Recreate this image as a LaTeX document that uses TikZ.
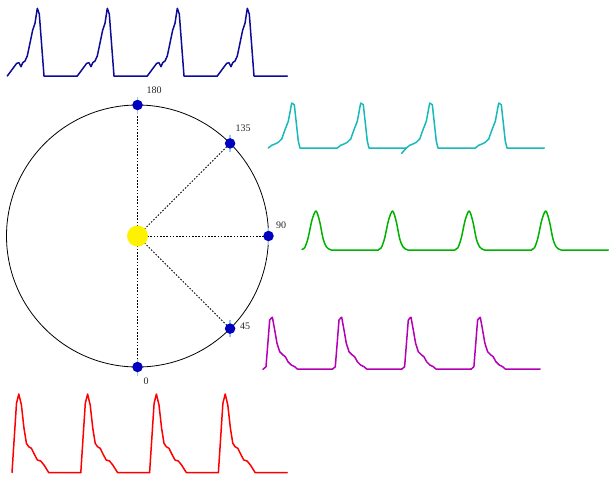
\documentclass[tikz,border=0pt]{standalone}
\usepackage{fontspec}
\setmainfont{Liberation Serif}
\usepackage{tikz}
\definecolor{wblue}{RGB}{12,12,150}
\definecolor{wcyan}{RGB}{25,185,185}
\definecolor{wgreen}{RGB}{0,178,0}
\definecolor{wmag}{RGB}{180,0,180}
\definecolor{wred}{RGB}{255,0,0}
\definecolor{dotblue}{RGB}{0,0,190}
\definecolor{ticklb}{RGB}{150,200,240}
\begin{document}
\begin{tikzpicture}[x=1pt,y=-1pt,
  wave/.style={line width=1.5pt,line join=round,line cap=round},
  dotmark/.style={circle,fill=dotblue,inner sep=0pt,minimum size=10.5pt},
  tickmark/.style={ticklb,line width=1.5pt},
  ray/.style={black,line width=0.8pt,dash pattern=on 1.6pt off 1.6pt},
  lbl/.style={font=\fontsize{10}{12}\selectfont,text=black!85,inner sep=0pt}]
\useasboundingbox (0,0) rectangle (609,477);

% waveforms
\foreach \k in {0,...,3}
  \draw[wave,wblue,xshift={7.3+70*\k}] plot coordinates {(0,76) (9.4,63.3) (11.7,62.7) (13.7,66.7) (15.4,62.7) (17.7,61) (20,56) (22.7,43) (25.4,30) (27.7,23.3) (30,8.3) (32,14) (36.7,76) (70,76)};
\foreach \k in {0,...,3}
  \draw[wave,wcyan,xshift={268.3+69*\k}] plot coordinates {(0,148) (3.4,145.3) (6.7,144) (10,142.3) (13.4,139) (16.7,129.7) (20,121.3) (23.4,103) (26,104.7) (30,141.3) (31.7,148) (69,148)};
\draw[wave,wcyan] (401.7,153.3) -- (406.3,148);
\foreach \k in {0,...,3}
  \draw[wave,wgreen,xshift={302+76.6*\k}] plot[smooth,tension=0.5] coordinates {(0,249.3) (2.7,247.7) (6,238.3) (10,220) (14,211) (17.7,221.7) (21,238.3) (24.3,246.7) (29.3,250) (40,250)} -- (76.6,250);
\foreach \k in {0,...,3}
  \draw[wave,wmag,xshift={263+69.3*\k}] plot coordinates {(0,369.3) (3,366.7) (6.7,320) (8.4,318) (9.4,317.3) (11.7,330) (14,343.3) (16.7,351.7) (20,355) (22.3,356.7) (25,361.7) (28.3,365) (31.7,366.7) (34.3,369) (69.3,369)};
\foreach \k in {0,...,3}
  \draw[wave,wred,xshift={12+68.8*\k}] plot coordinates {(0,472.5) (4.5,403.3) (6.8,394) (9.4,405) (12,428.3) (14.4,443.3) (16.7,446.7) (19.4,448.3) (22.7,455) (25.4,460) (28.7,461) (32,465) (36.7,472.5) (68.8,472.5)};

% orbit
\coordinate (ctr) at (137.5,236);
\draw[black,line width=0.8pt] (ctr) circle[radius=131];
\coordinate (c180) at (137.5,105);
\coordinate (c135) at (230.1,143.4);
\coordinate (c90) at (268.5,236);
\coordinate (c45) at (230.1,328.6);
\coordinate (c0) at (137.5,367);

\foreach \c in {c180,c135,c90,c45,c0}
  \draw[ray] (ctr) -- (\c);
\foreach \c in {c180,c135,c90,c45,c0}
  \draw[tickmark] (\c) ++(0,-8.5) -- ++(0,17);
\node[dotmark] (p180) at (c180) {};
\node[dotmark] (p135) at (c135) {};
\node[dotmark] (p90) at (c90) {};
\node[dotmark] (p45) at (c45) {};
\node[dotmark] (p0) at (c0) {};
\node[circle,fill=yellow,inner sep=0pt,minimum size=21pt] (sun) at (ctr) {};

\node[lbl] (l180) at (154,90) {180};
\node[lbl] (l135) at (243,128) {135};
\node[lbl] (l90) at (281,225) {90};
\node[lbl] (l45) at (245,326) {45};
\node[lbl] (l0) at (146,381) {0};
\end{tikzpicture}
\end{document}
